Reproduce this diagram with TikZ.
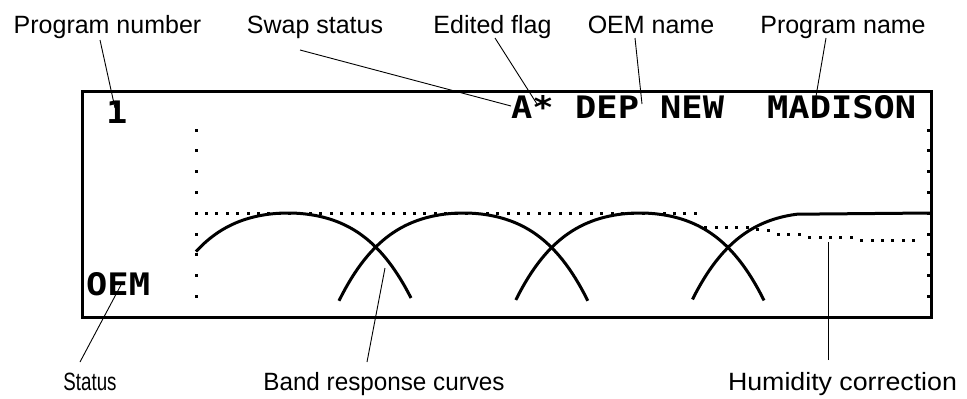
\documentclass[tikz,border=0pt]{standalone}
\usepackage{fontspec}
\setmainfont{Liberation Sans}
\newfontfamily\lcdfam[FakeStretch=1.14]{DejaVu Sans Mono}
\begin{document}
\begin{tikzpicture}[x=1pt,y=-1pt,
  lab/.style={font=\fontsize{25}{25}\selectfont, inner sep=0, anchor=base},
  lcd/.style={font=\lcdfam\bfseries\fontsize{31}{31}\selectfont, inner sep=0, anchor=base west},
  leader/.style={line width=0.9pt},
  curve/.style={line width=3pt},
  frame/.style={line width=3pt}]
\useasboundingbox (0,0) rectangle (967,399);

% LCD frame
\draw[frame] (82.5,91.5) rectangle (931.5,317.3);

% axis dots and right ticks
\foreach \y in {130,150.8,171.6,192.4,213.2,234,254.8,275.6,296.4}{
  \fill (194.5,\y-1.5) rectangle ++(3,3);
  \fill (927,\y-1.5) rectangle (931,\y+1.5);
}

% reference dotted line
\foreach \k in {1,...,48}
  \fill ({196+10.4*\k-1.5},211.5) rectangle ++(3,3);
% humidity correction dotted line
\foreach \k/\y in {49/227,50/227,51/227,52/227,53/227,54/229,55/230,56/234,57/234,58/234,
                   59/237,60/237,61/237,62/237,63/237,64/240,65/240,66/240,67/240,68/240,69/240}
  \fill ({196+10.4*\k-1.5},\y-1.5) rectangle ++(3,3);

% band response curves
\draw[curve] plot[domain=196:411, samples=80]
  (\x,{213+2*(0.04*(\x-288))^2+0.0625*(0.04*(\x-288))^4});
\draw[curve] plot[domain=339:587.8, samples=80]
  (\x,{213+2*(0.04*(\x-463.4))^2+0.0625*(0.04*(\x-463.4))^4});
\draw[curve] plot[domain=515.8:764, samples=80]
  (\x,{213+2*(0.04*(\x-639.8))^2+0.0625*(0.04*(\x-639.8))^4});
\draw[curve] plot[domain=692.5:797, samples=60]
  (\x,{213+2*(0.04*(\x-816.2))^2+0.0625*(0.04*(\x-816.2))^4}) -- (930,213);

% LCD texts
\node[lcd] (num) at (106,123) {1};
\node[lcd] (swap) at (511,118) {A*};
\node[lcd] (oem) at (575,118) {DEP};
\node[lcd] (new) at (660,118) {NEW};
\node[lcd] (pname) at (767,118) {MADISON};
\node[lcd] (stat) at (86,295) {OEM};

% labels
\node[lab] (lpn) at (107.5,33) {Program number};
\node[lab] (lsw) at (315,33) {Swap status};
\node[lab] (led) at (492.5,33) {Edited flag};
\node[lab] (loem) at (651,33) {OEM name};
\node[lab] (lpname) at (843,33) {Program name};
\node[lab] (lst) at (90,390) {\scalebox{0.75}[1]{Status}};
\node[lab] (lband) at (384,390) {\scalebox{0.97}[1]{Band response curves}};
\node[lab] (lhum) at (842.5,390) {\scalebox{1.07}[1]{Humidity correction}};

% leader end points
\coordinate (a1) at (100,40);   \coordinate (b1) at (115,108);
\coordinate (a2) at (300,50);   \coordinate (b2) at (511,106);
\coordinate (a3) at (495,38);   \coordinate (b3) at (537,104);
\coordinate (a4) at (635,38);   \coordinate (b4) at (642,104);
\coordinate (a5) at (826,38);   \coordinate (b5) at (815,102);
\coordinate (a6) at (80,362);   \coordinate (b6) at (122,283);
\coordinate (a7) at (367,362);  \coordinate (b7) at (385,268);
\coordinate (a8) at (828,360);  \coordinate (b8) at (828,242);

\draw[leader] (a1) -- (b1);
\draw[leader] (a2) -- (b2);
\draw[leader] (a3) -- (b3);
\draw[leader] (a4) -- (b4);
\draw[leader] (a5) -- (b5);
\draw[leader] (a6) -- (b6);
\draw[leader] (a7) -- (b7);
\draw[leader] (a8) -- (b8);
\end{tikzpicture}
\end{document}
